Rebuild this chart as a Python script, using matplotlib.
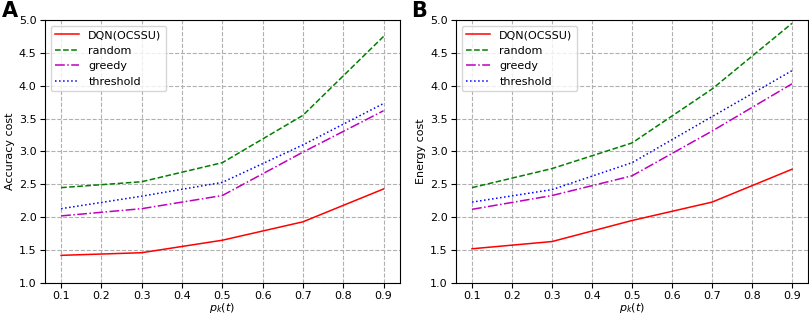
import numpy as np
import matplotlib.pyplot as plt

p_k = [0.1, 0.3, 0.5, 0.7, 0.9]
labels = ['DQN(OCSSU)', 'random', 'greedy', 'threshold']

acc_dqn = [1.42, 1.46, 1.65, 1.93, 2.43]
acc_random = [2.45, 2.54, 2.83, 3.55, 4.75]
acc_greedy = [2.02, 2.13, 2.33, 2.99, 3.62]
acc_threshold = [2.13, 2.32, 2.53, 3.10, 3.73]

en_dqn = [1.52, 1.63, 1.95, 2.23, 2.73]
en_random = [2.45, 2.74, 3.13, 3.95, 4.95]
en_greedy = [2.12, 2.33, 2.63, 3.31, 4.03]
en_threshold = [2.23, 2.42, 2.83, 3.53, 4.23]

styles = [('r', '-'), ('g', '--'), ('m', '-.'), ('b', ':')]

fig = plt.figure(figsize=(8.09, 3.13), dpi=100)
ax_a = fig.add_axes([0.0556, 0.096, 0.4384, 0.84])
ax_b = fig.add_axes([0.5637, 0.096, 0.4351, 0.84])

panels = [
    (ax_a, [acc_dqn, acc_random, acc_greedy, acc_threshold], 'Accuracy cost', 'A', 0.002),
    (ax_b, [en_dqn, en_random, en_greedy, en_threshold], 'Energy cost', 'B', 0.508),
]

for ax, series, ylab, tag, tx in panels:
    for vals, lab, (c, ls) in zip(series, labels, styles):
        ax.plot(p_k, vals, color=c, linestyle=ls, linewidth=1.1, label=lab)
    ax.set_ylim(1.0, 5.0)
    ax.set_xticks(np.arange(0.1, 0.91, 0.1))
    ax.set_xticklabels(['%.1f' % v for v in np.arange(0.1, 0.91, 0.1)])
    ax.set_yticks(np.arange(1.0, 5.01, 0.5))
    ax.tick_params(labelsize=8, pad=2.5)
    ax.grid(True, linestyle='--', color='#b0b0b0', linewidth=0.8)
    ax.set_xlabel('$p_k(t)$', fontsize=8, labelpad=0)
    ax.set_ylabel(ylab, fontsize=8, labelpad=3)
    ax.legend(loc='upper left', fontsize=8, handlelength=2.2)
    fig.text(tx, 0.998, tag, fontsize=15, fontweight='bold', va='top', ha='left')

fig.savefig('out.png', dpi=100)
